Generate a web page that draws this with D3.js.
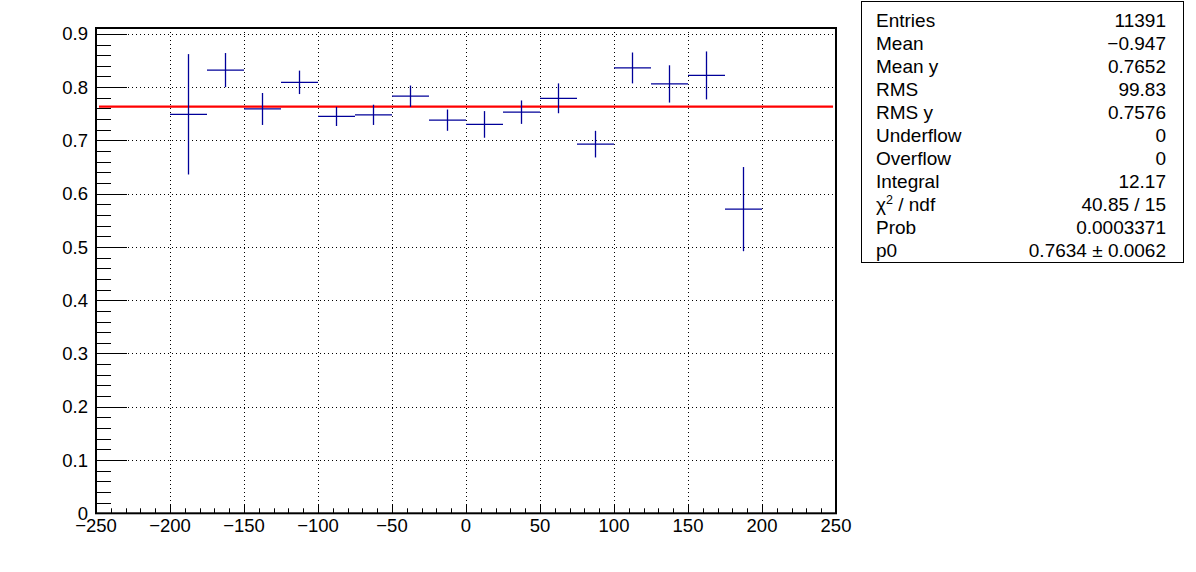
<!DOCTYPE html>
<html>
<head>
<meta charset="utf-8">
<script src="https://cdn.jsdelivr.net/npm/d3@7"></script>
<style>
  body { margin: 0; background: #fff; }
  svg { display: block; font-family: "Liberation Sans", Arial, sans-serif; }
</style>
</head>
<body>
<div id="chart"></div>
<script>
// bin centres (width 25) and profile values
var binCenters = [-187.5, -162.5, -137.5, -112.5, -87.5, -62.5, -37.5, -12.5,
                  12.5, 37.5, 62.5, 87.5, 112.5, 137.5, 162.5, 187.5];
var binValues = [0.749, 0.832, 0.759, 0.809, 0.745, 0.748, 0.783, 0.738,
                 0.730, 0.753, 0.779, 0.693, 0.836, 0.806, 0.822, 0.571];
var binErrors = [0.113, 0.032, 0.030, 0.022, 0.018, 0.019, 0.020, 0.020,
                 0.025, 0.022, 0.028, 0.025, 0.029, 0.035, 0.045, 0.079];
var binWidth = 25;

var fitValue = 0.7634;
var fitRange = [-248, 248];

var xTicks = [-250, -200, -150, -100, -50, 0, 50, 100, 150, 200, 250];
var yTicks = [0, 0.1, 0.2, 0.3, 0.4, 0.5, 0.6, 0.7, 0.8, 0.9];

var statLabels = ["Entries", "Mean", "Mean y", "RMS", "RMS y", "Underflow",
                  "Overflow", "Integral", "chi2", "Prob", "p0"];
var statValues = ["11391", "\u22120.947", "0.7652", "99.83", "0.7576", "0",
                  "0", "12.17", "40.85 / 15", "0.0003371", "0.7634 \u00b1 0.0062"];

//////////////////////////////////////////////////////////////////////////////

var W = 1196, H = 572;
var frame = { left: 96, right: 836, top: 28, bottom: 513.3 };

var svg = d3.select("#chart").append("svg")
  .attr("width", W)
  .attr("height", H);

var x = d3.scaleLinear().domain([-250, 250]).range([frame.left, frame.right]);
var y = d3.scaleLinear().domain([0, 0.911]).range([frame.bottom, frame.top]);

function fmtMinus(v) {
  return (v < 0 ? "\u2212" : "") + Math.abs(v);
}

// grid (dotted, major ticks only, not on frame edges)
var grid = svg.append("g").attr("stroke", "#000").attr("stroke-width", 1)
  .attr("stroke-dasharray", "1,3");
grid.selectAll("line.gx")
  .data(xTicks.filter(function(d) { return d > -250 && d < 250; }))
  .enter().append("line")
  .attr("x1", function(d) { return Math.round(x(d)) + 0.5; })
  .attr("x2", function(d) { return Math.round(x(d)) + 0.5; })
  .attr("y1", frame.top).attr("y2", frame.bottom);
grid.selectAll("line.gy")
  .data(yTicks.filter(function(d) { return d > 0; }))
  .enter().append("line")
  .attr("y1", function(d) { return Math.round(y(d)) + 0.5; })
  .attr("y2", function(d) { return Math.round(y(d)) + 0.5; })
  .attr("x1", frame.left).attr("x2", frame.right);

// minor / major ticks
var xMinor = d3.range(-250, 251, 10);
svg.append("g").selectAll("line")
  .data(xMinor)
  .enter().append("line")
  .attr("x1", function(d) { return Math.round(x(d)) + 0.5; })
  .attr("x2", function(d) { return Math.round(x(d)) + 0.5; })
  .attr("y1", frame.bottom)
  .attr("y2", function(d) { return frame.bottom - (d % 50 === 0 ? 9 : 5); })
  .attr("stroke", "#000").attr("stroke-width", 1);

var yMinor = d3.range(0, 0.911, 0.02);
svg.append("g").selectAll("line")
  .data(yMinor)
  .enter().append("line")
  .attr("y1", function(d) { return Math.round(y(d)) + 0.5; })
  .attr("y2", function(d) { return Math.round(y(d)) + 0.5; })
  .attr("x1", frame.left)
  .attr("x2", function(d, i) { return frame.left + (i % 5 === 0 ? 31 : 15); })
  .attr("stroke", "#000").attr("stroke-width", 1);

// fit line
svg.append("line")
  .attr("x1", x(fitRange[0])).attr("x2", x(fitRange[1]))
  .attr("y1", y(fitValue)).attr("y2", y(fitValue))
  .attr("stroke", "#ff0000").attr("stroke-width", 2.2);

// profile points
var pts = svg.append("g").attr("stroke", "#000099").attr("stroke-width", 1.3);
binCenters.forEach(function(c, i) {
  pts.append("line")
    .attr("x1", x(c - binWidth / 2)).attr("x2", x(c + binWidth / 2))
    .attr("y1", y(binValues[i])).attr("y2", y(binValues[i]));
  pts.append("line")
    .attr("x1", x(c)).attr("x2", x(c))
    .attr("y1", y(binValues[i] - binErrors[i]))
    .attr("y2", y(binValues[i] + binErrors[i]));
});

// frame
svg.append("rect")
  .attr("x", frame.left).attr("y", frame.top)
  .attr("width", frame.right - frame.left)
  .attr("height", frame.bottom - frame.top)
  .attr("fill", "none").attr("stroke", "#000").attr("stroke-width", 2);

// tick labels
svg.append("g").selectAll("text")
  .data(xTicks)
  .enter().append("text")
  .attr("x", function(d) { return x(d); })
  .attr("y", 532)
  .attr("text-anchor", "middle")
  .attr("font-size", 18.5)
  .text(fmtMinus);

svg.append("g").selectAll("text")
  .data(yTicks)
  .enter().append("text")
  .attr("x", 88)
  .attr("y", function(d) { return y(d) + 6.6; })
  .attr("text-anchor", "end")
  .attr("font-size", 18.5)
  .text(function(d) { return d === 0 ? "0" : d3.format(".1f")(d); });

// stats box
var box = svg.append("g");
box.append("rect")
  .attr("x", 861.5).attr("y", 1.5)
  .attr("width", 322).attr("height", 261)
  .attr("fill", "#fff").attr("stroke", "#000").attr("stroke-width", 1);

var rowStep = 23.06, firstBase = 26.7;
statLabels.forEach(function(lab, i) {
  var t = box.append("text")
    .attr("x", 876).attr("y", firstBase + i * rowStep)
    .attr("font-size", 19);
  if (lab === "chi2") {
    t.append("tspan").text("\u03c7");
    t.append("tspan").attr("font-size", 12.5).attr("dy", -7.5).text("2");
    t.append("tspan").attr("dy", 7.5).text(" / ndf");
  } else {
    t.text(lab);
  }
  box.append("text")
    .attr("x", 1166).attr("y", firstBase + i * rowStep)
    .attr("text-anchor", "end")
    .attr("font-size", 19)
    .text(statValues[i]);
});
</script>
</body>
</html>
